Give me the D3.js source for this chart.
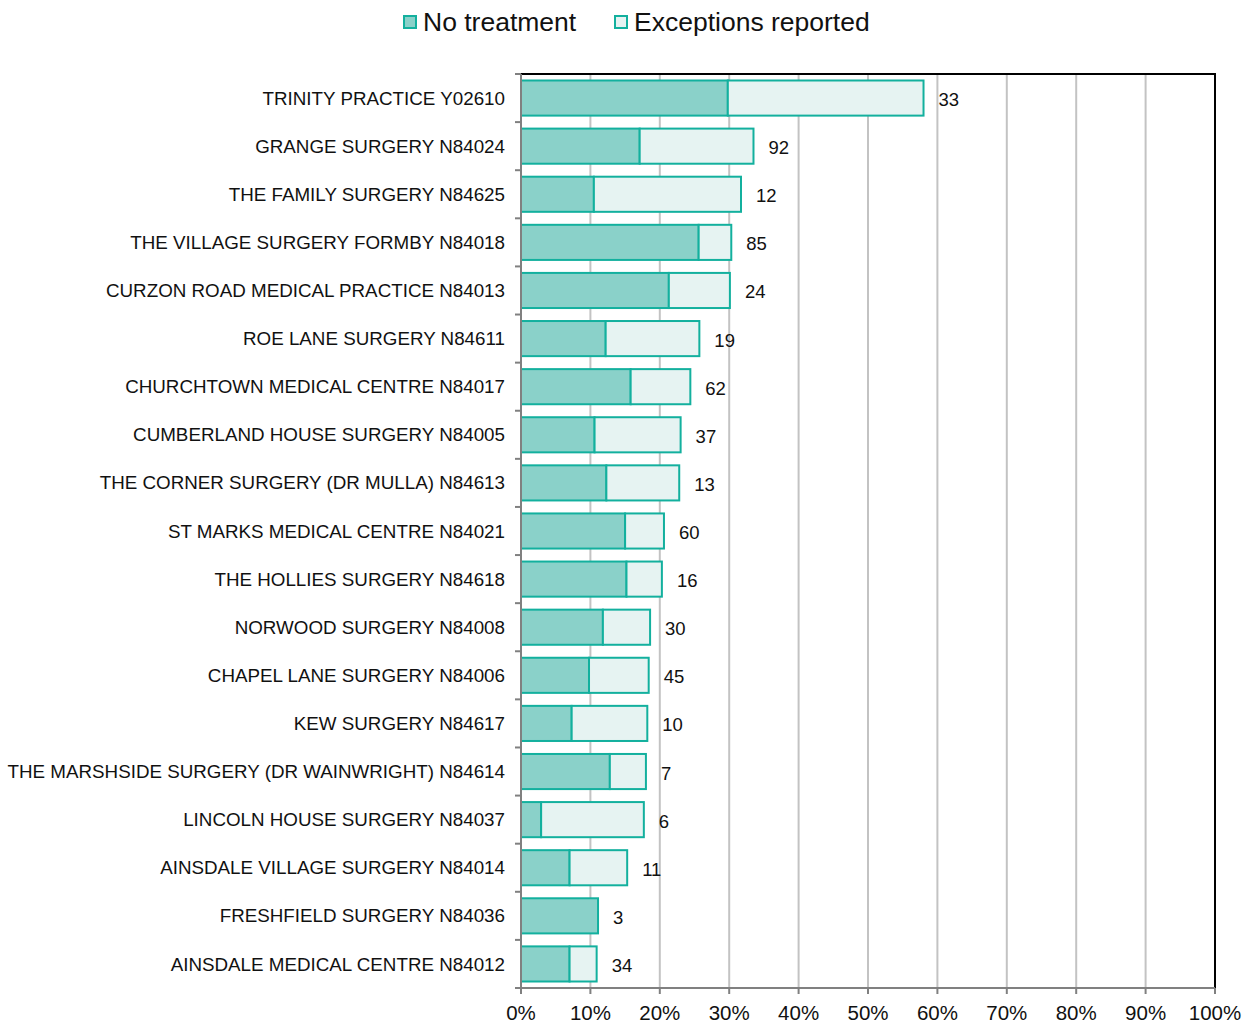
<!DOCTYPE html>
<html><head><meta charset="utf-8">
<script src="https://cdn.jsdelivr.net/npm/d3@7"></script>
<style>body{margin:0;background:#fff;}svg{display:block;font-family:"Liberation Sans",Arial,sans-serif;}</style>
</head><body><svg id="c" width="1246" height="1023"></svg>
<script>
const categories = ["TRINITY PRACTICE Y02610","GRANGE SURGERY N84024","THE FAMILY SURGERY N84625","THE VILLAGE SURGERY FORMBY N84018","CURZON ROAD MEDICAL PRACTICE N84013","ROE LANE SURGERY N84611","CHURCHTOWN MEDICAL CENTRE N84017","CUMBERLAND HOUSE SURGERY N84005","THE CORNER SURGERY (DR MULLA) N84613","ST MARKS MEDICAL CENTRE N84021","THE HOLLIES SURGERY N84618","NORWOOD SURGERY N84008","CHAPEL LANE SURGERY N84006","KEW SURGERY N84617","THE MARSHSIDE SURGERY (DR WAINWRIGHT) N84614","LINCOLN HOUSE SURGERY N84037","AINSDALE VILLAGE SURGERY N84014","FRESHFIELD SURGERY N84036","AINSDALE MEDICAL CENTRE N84012"];
const noTreatment = [29.8,17.1,10.5,25.6,21.3,12.2,15.8,10.6,12.3,15.0,15.2,11.8,9.8,7.3,12.8,2.9,7.0,11.1,7.0];
const exceptions = [28.2,16.4,21.2,4.7,8.8,13.5,8.6,12.4,10.5,5.6,5.1,6.8,8.6,10.9,5.2,14.8,8.3,0.0,3.9];
const counts = [33,92,12,85,24,19,62,37,13,60,16,30,45,10,7,6,11,3,34];
const xTicks = [0,10,20,30,40,50,60,70,80,90,100];
const seriesNames = ["No treatment","Exceptions reported"];

const svg = d3.select("#c");
const L = 521, R = 1215, T = 74, B = 988;
const x = d3.scaleLinear().domain([0,100]).range([L,R]);
const y = d3.scaleBand().domain(categories).range([T,B]).paddingInner(0.27).paddingOuter(0.135);
const stroke = "#13b09e", darkFill = "#8ad1c9", lightFill = "#e6f3f2";
const idx = d => categories.indexOf(d);

// gridlines
svg.append("g").selectAll("line").data(xTicks.slice(1)).join("line")
  .attr("x1",d=>x(d)).attr("x2",d=>x(d)).attr("y1",T).attr("y2",B)
  .attr("stroke","#c3c3c3").attr("stroke-width",2);

// top and right border
svg.append("path").attr("d",`M${L},${T}H${R}V${B}`).attr("fill","none").attr("stroke","#000").attr("stroke-width",2);

// bars
const rows = svg.append("g").selectAll("g").data(categories).join("g");
rows.append("rect").attr("x",x(0)).attr("y",d=>y(d))
  .attr("width",d=>x(noTreatment[idx(d)])-x(0)).attr("height",y.bandwidth())
  .attr("fill",darkFill).attr("stroke",stroke).attr("stroke-width",2);
rows.filter(d=>exceptions[idx(d)]>0).append("rect").attr("x",d=>x(noTreatment[idx(d)])).attr("y",d=>y(d))
  .attr("width",d=>x(noTreatment[idx(d)]+exceptions[idx(d)])-x(noTreatment[idx(d)])).attr("height",y.bandwidth())
  .attr("fill",lightFill).attr("stroke",stroke).attr("stroke-width",2);
rows.append("text").attr("x",d=>x(noTreatment[idx(d)]+exceptions[idx(d)])+15).attr("y",d=>y(d)+y.bandwidth()/2+1.5)
  .attr("dy","0.35em").attr("font-size",18.5).attr("fill","#111").text(d=>counts[idx(d)]);

// left axis
const yAxis = svg.append("g");
yAxis.append("line").attr("x1",L).attr("x2",L).attr("y1",T).attr("y2",B+5).attr("stroke","#808080").attr("stroke-width",2);
const bounds = d3.range(categories.length+1).map(i=>T+i*(B-T)/categories.length);
yAxis.selectAll("line.t").data(bounds).join("line").attr("class","t")
  .attr("x1",L-6).attr("x2",L).attr("y1",d=>d).attr("y2",d=>d).attr("stroke","#808080").attr("stroke-width",2);
yAxis.selectAll("text").data(categories).join("text")
  .attr("x",505).attr("y",d=>y(d)+y.bandwidth()/2).attr("dy","0.35em")
  .attr("text-anchor","end").attr("font-size",18.8).attr("fill","#111").text(d=>d);

// bottom axis
const xAxis = svg.append("g");
xAxis.append("line").attr("x1",L).attr("x2",R).attr("y1",B).attr("y2",B).attr("stroke","#808080").attr("stroke-width",2);
xAxis.selectAll("line.t").data(xTicks).join("line").attr("class","t")
  .attr("x1",d=>x(d)).attr("x2",d=>x(d)).attr("y1",B).attr("y2",B+6).attr("stroke","#808080").attr("stroke-width",2);
xAxis.selectAll("text").data(xTicks).join("text")
  .attr("x",d=>x(d)).attr("y",1020).attr("text-anchor","middle").attr("font-size",20.5).attr("fill","#111").text(d=>d+"%");

// legend
const leg = svg.append("g");
const legX = [404, 615];
seriesNames.forEach((n,i)=>{
  leg.append("rect").attr("x",legX[i]).attr("y",16).attr("width",12).attr("height",12)
    .attr("fill",i===0?darkFill:lightFill).attr("stroke",stroke).attr("stroke-width",2);
  leg.append("text").attr("x",legX[i]+19).attr("y",22).attr("dy","0.35em").attr("font-size",26.5).attr("fill","#111").text(n);
});
</script></body></html>
